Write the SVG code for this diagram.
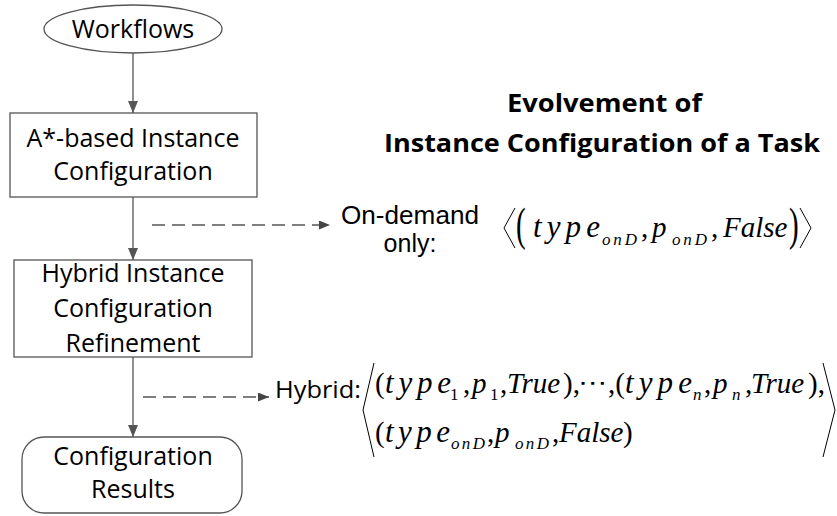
<svg xmlns="http://www.w3.org/2000/svg" width="837" height="516" viewBox="0 0 837 516">
<defs>
<marker id="ah" viewBox="0 0 12 10" refX="12" refY="5" markerWidth="12" markerHeight="10" markerUnits="userSpaceOnUse" orient="auto">
<path d="M0,0 L12,5 L0,10 Z" fill="#555"/>
</marker>
<marker id="ahs" viewBox="0 0 11 9" refX="11" refY="4.5" markerWidth="11" markerHeight="9" markerUnits="userSpaceOnUse" orient="auto">
<path d="M0,0 L11,4.5 L0,9 Z" fill="#444"/>
</marker>
</defs>
<style>
.node{fill:#fff;stroke:#555;stroke-width:1.3}
.lbl{font-family:"Open Sans","DejaVu Sans",sans-serif;font-size:25px;fill:#000;text-anchor:middle}
.side{font-family:"Open Sans","DejaVu Sans",sans-serif;font-size:24px;fill:#000}
.side2{font-family:"Liberation Sans",Arial,sans-serif;font-size:25px;fill:#000}
.title{font-family:"Open Sans","DejaVu Sans",sans-serif;font-size:25px;font-weight:bold;fill:#000}
.flow{stroke:#555;stroke-width:1.3;fill:none;marker-end:url(#ah)}
.dash{stroke:#555;stroke-width:1.5;fill:none;stroke-dasharray:13 7;marker-end:url(#ahs)}
.m{font-family:"Liberation Serif","Times New Roman",serif;font-size:29px;font-style:italic;fill:#000}
.t{font-family:"Liberation Serif","Times New Roman",serif;font-size:31px;font-style:italic;fill:#000}
.r{font-family:"Liberation Serif","Times New Roman",serif;font-size:29px;fill:#000}
.s{font-family:"Liberation Serif","Times New Roman",serif;font-size:17px;font-style:italic;fill:#000}
.sr{font-family:"Liberation Serif","Times New Roman",serif;font-size:17px;fill:#000}
.br{stroke:#000;stroke-width:1;fill:none}
</style>

<g id="connectors">
<line class="flow" x1="133" y1="53" x2="133" y2="113"/>
<line class="flow" x1="133" y1="197" x2="133" y2="260"/>
<line class="flow" x1="133" y1="357" x2="133" y2="437"/>
<line class="dash" x1="152" y1="225" x2="330" y2="225"/>
<line class="dash" x1="143" y1="397" x2="269" y2="397"/>
</g>

<g id="workflows">
<ellipse class="node" cx="133" cy="29" rx="89" ry="24"/>
<text class="lbl" x="133" y="38">Workflows</text>
</g>

<g id="astar">
<rect class="node" x="10" y="113" width="247" height="84"/>
<text class="lbl" x="133" y="147">A*-based Instance</text>
<text class="lbl" x="133" y="180">Configuration</text>
</g>

<g id="hybrid">
<rect class="node" x="14" y="260" width="238" height="97"/>
<text class="lbl" x="133" y="282">Hybrid Instance</text>
<text class="lbl" x="133" y="317">Configuration</text>
<text class="lbl" x="133" y="352">Refinement</text>
</g>

<g id="results">
<rect class="node" x="22" y="437" width="220" height="76" rx="22" ry="22"/>
<text class="lbl" x="133" y="465">Configuration</text>
<text class="lbl" x="133" y="498">Results</text>
</g>

<g id="title">
<text class="title" x="507" y="112" textLength="195" lengthAdjust="spacingAndGlyphs">Evolvement of</text>
<text class="title" x="384" y="152" textLength="436" lengthAdjust="spacingAndGlyphs">Instance Configuration of a Task</text>
</g>

<g id="ondemand">
<text class="side2" x="341" y="224" textLength="138" lengthAdjust="spacingAndGlyphs">On-demand</text>
<text class="side2" x="410" y="252" text-anchor="middle">only:</text>
<polyline class="br" points="515,208 504,228 515,248"/>
<text class="r" transform="translate(516,240) scale(1,1.6)">(</text>
<text class="t" x="533" y="237" textLength="67" lengthAdjust="spacing">type</text>
<text class="s" x="602" y="245" textLength="35" lengthAdjust="spacing">onD</text>
<text class="r" x="641" y="237">,</text>
<text class="m" x="652" y="237">p</text>
<text class="s" x="672" y="245" textLength="35" lengthAdjust="spacing">onD</text>
<text class="r" x="711" y="237">,</text>
<text class="m" x="723" y="237">False</text>
<text class="r" transform="translate(789,240) scale(1,1.6)">)</text>
<polyline class="br" points="800,208 811,228 800,248"/>
</g>

<g id="hybridconf">
<text class="side" x="275" y="398" textLength="86" lengthAdjust="spacingAndGlyphs">Hybrid:</text>
<polyline class="br" points="374,363 363,410 374,457"/>
<polyline class="br" points="823,363 835,410 823,457"/>
<text class="r" x="375" y="393">(</text>
<text class="t" x="385" y="393" textLength="66" lengthAdjust="spacing">type</text>
<text class="sr" x="450" y="400">1</text>
<text class="r" x="463" y="393">,</text>
<text class="m" x="472" y="393">p</text>
<text class="sr" x="490" y="400">1</text>
<text class="r" x="500" y="393">,</text>
<text class="m" x="507" y="393">True</text>
<text class="r" x="563" y="393">),</text>
<text x="578" y="390" textLength="29" lengthAdjust="spacingAndGlyphs" style="font-family:'DejaVu Sans',sans-serif;font-size:22px;fill:#000">⋯</text>
<text class="r" x="608" y="393">,(</text>
<text class="t" x="625" y="393" textLength="67" lengthAdjust="spacing">type</text>
<text class="s" x="693" y="400">n</text>
<text class="r" x="704" y="393">,</text>
<text class="m" x="713" y="393">p</text>
<text class="s" x="732" y="400">n</text>
<text class="r" x="745" y="393">,</text>
<text class="m" x="751" y="393">True</text>
<text class="r" x="808" y="393">),</text>
<text class="r" x="375" y="442">(</text>
<text class="t" x="385" y="442" textLength="65" lengthAdjust="spacing">type</text>
<text class="s" x="451" y="449" textLength="34" lengthAdjust="spacing">onD</text>
<text class="r" x="487" y="442">,</text>
<text class="m" x="495" y="442">p</text>
<text class="s" x="515" y="449" textLength="34" lengthAdjust="spacing">onD</text>
<text class="r" x="552" y="442">,</text>
<text class="m" x="559" y="442">False</text>
<text class="r" x="623" y="442">)</text>
</g>
</svg>
